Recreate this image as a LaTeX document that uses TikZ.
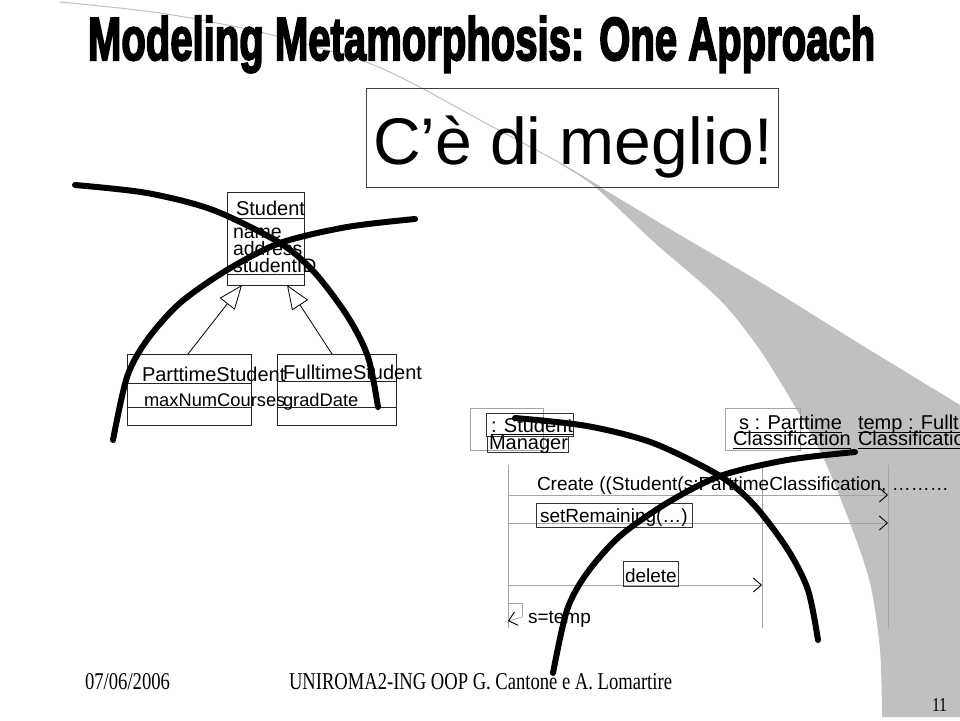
\documentclass[tikz,border=0pt]{standalone}
\usepackage{fontspec}
\setmainfont{Liberation Sans}
\newfontfamily\serifft{Liberation Serif}
\newfontfamily\titlefont{Liberation Sans Bold}[FakeBold=3.5]
\usetikzlibrary{arrows.meta}
\definecolor{swoosh}{RGB}{192,192,192}
\definecolor{lifegray}{RGB}{165,165,165}
\begin{document}
\begin{tikzpicture}[x=1pt,y=-1pt,
  every node/.style={inner sep=0pt, outer sep=0pt},
  txt/.style={anchor=base west, font=\fontsize{19.5}{19.5}\selectfont},
  cname/.style={anchor=base west, font=\fontsize{20}{20}\selectfont},
  attr/.style={anchor=base west, font=\fontsize{18.3}{18.3}\selectfont},
  stxt/.style={anchor=base west, font=\fontsize{20}{20}\selectfont},
  mtxt/.style={anchor=base west, font=\fontsize{19}{19}\selectfont},
  umlbox/.style={draw=black!85, line width=0.9pt, anchor=north west},
  umlline/.style={draw=black!85, line width=0.9pt},
  objbox/.style={draw=lifegray, line width=0.6pt, anchor=north west},
  lblbox/.style={draw=black!80, line width=0.9pt, anchor=north west},
  uline/.style={draw=black, line width=1pt},
  lifeline/.style={draw=lifegray, line width=0.6pt},
  msg/.style={draw=lifegray, line width=0.6pt},
  tipo/.style={-{Straight Barb[length=8pt,width=14pt,color=black,line width=0.9pt]}},
  gen/.style={draw=black, line width=0.8pt, -{Triangle[open,length=24pt,width=19pt,fill=white,line width=0.8pt]}},
  bigarc/.style={draw=black, line width=6pt, line cap=round}]

\clip (0,0) rectangle (960,720);
\fill[white] (0,0) rectangle (960,720);

% background swoosh
\draw[swoosh, line width=1pt] plot[smooth] coordinates {(60,2) (160,13) (260,32) (360,60) (410,82) (480,120) (560,163) (600,187)};
\fill[swoosh] plot[smooth] coordinates {(560,163) (600,187) (680,235) (760,282) (860,344) (960,405)}
  -- (960,717) -- (882,717)
  -- plot[smooth] coordinates {(882,717) (880,650) (870,583) (850,523) (823,457) (797,410) (760,350) (720,300) (655,243) (595,187) (560,164)} -- cycle;

% title
\node[anchor=base west] (title) at (88,60) {\resizebox{787pt}{44pt}{\titlefont Modeling Metamorphosis: One Approach}};

% callout
\node[draw=black!75, line width=1pt, anchor=north west, minimum width=412pt, minimum height=99pt] (callout) at (366,88) {};
\node[anchor=base west, font=\fontsize{66}{66}\selectfont] (meglio) at (373,164) {C’è di meglio!};

% class diagram
\node[umlbox, minimum width=77pt, minimum height=93pt] (student) at (227,192) {};
\draw[umlline] ([yshift=-26pt]student.north west) -- ([yshift=-26pt]student.north east);
\draw[umlline] ([yshift=11pt]student.south west) -- ([yshift=11pt]student.south east);
\node[cname] (studentT) at (236,215) {Student};
\node[txt] (aname) at (233,238) {name};
\node[txt] (aaddr) at (233,255) {address};
\node[txt] (asid) at (233,272) {studentID};

\node[umlbox, minimum width=124pt, minimum height=71pt] (parttime) at (127,354) {};
\draw[umlline] ([yshift=-29pt]parttime.north west) -- ([yshift=-29pt]parttime.north east);
\draw[umlline] ([yshift=18pt]parttime.south west) -- ([yshift=18pt]parttime.south east);
\node[umlbox, minimum width=119pt, minimum height=71pt] (fulltime) at (277,354) {};
\draw[umlline] ([yshift=-27pt]fulltime.north west) -- ([yshift=-27pt]fulltime.north east);
\draw[umlline] ([yshift=18pt]fulltime.south west) -- ([yshift=18pt]fulltime.south east);
\node[cname] (ptT) at (142,381) {ParttimeStudent};
\node[cname] (ftT) at (283,379) {FulltimeStudent};
\node[attr] (maxc) at (144,406) {maxNumCourses};
\node[attr] (grad) at (283,406) {gradDate};

\draw[gen] ([xshift=61pt]parttime.north west) -- ([xshift=15pt]student.south west);
\draw[gen] ([xshift=55pt]fulltime.north west) -- ([xshift=60pt]student.south west);

% sequence diagram objects
\node[objbox, minimum width=73pt, minimum height=42pt] (smgr) at (470,408) {};
\node[lblbox, minimum width=87pt, minimum height=23pt] (smgrA) at (486,413) {};
\node[lblbox, minimum width=81pt, minimum height=16pt] (smgrB) at (487,436) {};
\node[stxt] (smT1) at (491,432) {: Student};
\node[stxt] (smT2) at (489,449) {Manager};
\draw[uline] ([yshift=-2pt]smT1.base west) -- ([yshift=-2pt]smT1.base east);

\node[objbox, minimum width=75pt, minimum height=42pt] (sobj) at (725,408) {};
\node[stxt] (sT1) at (739,429) {s : Parttime};
\node[stxt] (sT2) at (733,445) {Classification};
\draw[uline] ([yshift=-3pt]sT1.base west) -- ([yshift=-3pt]sT1.base east);
\draw[uline] ([yshift=-3pt]sT2.base west) -- ([yshift=-3pt]sT2.base east);
\node[stxt] (tT1) at (858,429) {temp : Fulltime};
\node[stxt] (tT2) at (858,445) {Classification};
\draw[uline] ([yshift=-3pt]tT1.base west) -- ([yshift=-3pt]tT1.base east);
\draw[uline] ([yshift=-3pt]tT2.base west) -- ([yshift=-3pt]tT2.base east);

% lifelines
\coordinate (l1t) at (508,465); \coordinate (l1b) at (508,628);
\coordinate (l2t) at (762,465); \coordinate (l2b) at (762,628);
\coordinate (l3t) at (888,465); \coordinate (l3b) at (888,628);
\draw[lifeline] (l1t) -- (l1b);
\draw[lifeline] (l2t) -- (l2b);
\draw[lifeline] (l3t) -- (l3b);

% messages
\coordinate (m1a) at (508,495); \coordinate (m1b) at (888,495);
\coordinate (m2a) at (508,523); \coordinate (m2b) at (888,523);
\coordinate (m3a) at (508,585); \coordinate (m3b) at (762,585);
\draw[msg, tipo] (m1a) -- (m1b);
\draw[msg, tipo] (m2a) -- (m2b);
\draw[msg, tipo] (m3a) -- (m3b);
\node[mtxt] (create) at (537,490) {Create ((Student(s:ParttimeClassification, ………};
\node[lblbox, minimum width=156pt, minimum height=24pt] (setbox) at (536,503) {};
\node[mtxt] (setT) at (540,522) {setRemaining(…)};
\node[lblbox, minimum width=55pt, minimum height=25pt] (delbox) at (623,561) {};
\node[mtxt] (delT) at (625,582) {delete};

% self message
\coordinate (s1) at (508,603); \coordinate (s2) at (522,603);
\coordinate (s3) at (522,617); \coordinate (s4) at (508,621);
\draw[msg] (s1) -- (s2) -- (s3);
\draw[msg, tipo] (s3) -- (s4);
\node[mtxt] (stemp) at (528,623) {s=temp};

% footer
\node[anchor=base west] (date) at (85,689) {\resizebox{85pt}{16pt}{\serifft 07/06/2006}};
\node[anchor=base west] (uni) at (289,689) {\resizebox{383pt}{16pt}{\serifft UNIROMA2-ING OOP G. Cantone e A. Lomartire}};
\node[anchor=base west] (pgno) at (932,711) {\resizebox{15pt}{13pt}{\serifft 11}};

% crossing arcs
\draw[bigarc] plot[smooth] coordinates {(75,185) (147,193) (213,210) (280,243) (315,273) (348,317) (368,357) (378,407)};
\draw[bigarc] plot[smooth] coordinates {(113,440) (127,377) (147,340) (180,303) (227,270) (280,243) (347,227) (415,219)};
\begin{scope}[shift={(440,233)}]
\draw[bigarc] plot[smooth] coordinates {(75,185) (147,193) (213,210) (280,243) (315,273) (348,317) (368,357) (378,407)};
\draw[bigarc] plot[smooth] coordinates {(113,440) (127,377) (147,340) (180,303) (227,270) (280,243) (347,227) (415,219)};
\end{scope}
\end{tikzpicture}
\end{document}
